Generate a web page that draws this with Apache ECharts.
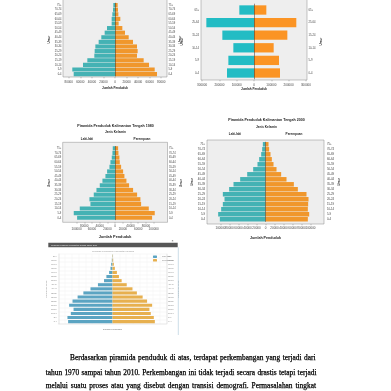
<!DOCTYPE html>
<html><head><meta charset="utf-8">
<script src="https://cdn.jsdelivr.net/npm/echarts@6/dist/echarts.min.js"></script>
<style>html,body{margin:0;padding:0;background:#fff}#c{width:391px;height:391px}</style>
</head><body><div id="c"></div>
<script>
// ---------------- DATA ----------------
const ages16 = ['0-4','5-9','10-14','15-19','20-24','25-29','30-34','35-39','40-44','45-49','50-54','55-59','60-64','65-69','70-74','75+'];
const ages17 = ['0-4','5-9','10-14','15-19','20-24','25-29','30-34','35-39','40-44','45-49','50-54','55-59','60-64','65-69','70-74','75-79','80+'];
const ages6  = ['0-4','5-9','10-14','15-24','25-64','65+'];

// top-left pyramid (1970)
const male1970   = [71500,73900,55400,47900,35800,35200,34000,28300,23700,17900,13800,5800,5800,4600,3500,2900];
const female1970 = [72700,68700,58900,49600,38100,39200,38100,31200,23700,17300,12700,6300,9200,5800,5200,4600];
const ticks1970  = [-80000,-60000,-40000,-20000,0,20000,40000,60000,80000];

// top-right pyramid (broad groups)
const maleBroad   = [156100,148200,119400,183000,275500,84800];
const femaleBroad = [150300,144500,113700,192700,244600,71300];
const ticksBroad  = [-300000,-200000,-100000,0,100000,200000,300000];

// 1980
const male1980   = [98600,107300,91700,64000,66600,55400,48400,39800,32900,25100,20800,14700,12100,8700,6900,6100];
const female1980 = [96000,102900,87400,67500,65700,57100,46700,36300,29400,24200,20800,15600,12100,11200,8700,7800];
const ticks1980  = [-120000,-100000,-80000,-60000,-40000,-20000,0,20000,40000,60000,80000,100000,120000];

// 2000
const male2000   = [101500,105200,98500,94800,91100,94800,80800,71100,56300,40700,27400,17800,14100,9600,7400,5900];
const female2000 = [94100,97100,94100,94800,95600,91100,71900,63000,46700,34800,24500,17800,14100,11100,8100,6700];
const ticks2000  = [-120000,-100000,-80000,-60000,-40000,-20000,0,20000,40000,60000,80000,100000,120000];

// 2010
const male2010   = [131000,133000,123000,115000,128000,118000,103000,86000,65000,43000,25000,18000,10000,6000,4000,2000,1000];
const female2010 = [125000,122000,113000,109000,117000,102000,89000,72000,59000,42000,27000,19000,13000,7000,4000,2000,1000];

const paragraphLines = [
  'Berdasarkan piramida penduduk di atas, terdapat perkembangan yang terjadi dari',
  'tahun 1970 sampai tahun 2010. Perkembangan ini tidak terjadi secara drastis tetapi terjadi',
  'melalui suatu proses atau yang disebut dengan transisi demografi. Permasalahan tingkat'
];

// ---------------- LAYOUT / STYLE ----------------
const SANS = '"Liberation Sans", Arial, sans-serif';
const panels = [
  { cats: ages16, male: male1970, female: female1970, ticks: ticks1970, min: -90000, max: 90000,
    frame: {x: 63, y: -6, w: 104, h: 83}, grid: {left: 63, top: 2.8, width: 104, height: 73.6},
    colors: ['#44b2b4', '#f0972c'], gap: '10%', lblSize: 3, lblMargin: 3.2, nameSize: 3, nameGap: 9.5,
    yLM: 1.5, yRM: 1.5, yNameL: 10, yNameR: 12, yLabelSize: 2.6 },
  { cats: ages6, male: maleBroad, female: femaleBroad, ticks: ticksBroad, min: -306400, max: 306400,
    frame: {x: 201, y: -6, w: 106, h: 86}, grid: {left: 201, top: 3.7, width: 106, height: 75.6},
    colors: ['#22bcc4', '#fb9424'], gap: '26%', lblSize: 3, lblMargin: 3.2, nameSize: 3, nameGap: 7.5,
    yLM: 2, yRM: 1.5, yNameL: 17, yNameR: 10.5, yLabelSize: 2.7 },
  { cats: ages16, male: male1980, female: female1980, ticks: ticks1980, min: -136000, max: 136000,
    frame: {x: 62.7, y: 142.3, w: 104.8, h: 80}, grid: {left: 62.7, top: 146, width: 104.8, height: 74.1},
    colors: ['#44b2b4', '#f0972c'], gap: '10%', lblSize: 3, lblMargin: 2.6, nameSize: 3.8, nameGap: 13,
    yLM: 1.5, yRM: 1.5, yNameL: 12.5, yNameR: 10.3, yLabelSize: 2.6, stagger: true },
  { cats: ages16, male: male2000, female: female2000, ticks: ticks2000, min: -130000, max: 130000,
    frame: {x: 207, y: 140, w: 117, h: 84}, grid: {left: 207, top: 141.8, width: 117, height: 80},
    colors: ['#44b2b4', '#f0972c'], gap: '10%', lblSize: 3, lblMargin: 2.8, nameSize: 3.6, nameGap: 11.7,
    yLM: 2, yRM: 3, yNameL: 11, yNameR: 12.7, yLabelSize: 2.8 }
];

const opt = { animation: false, grid: [], xAxis: [], yAxis: [], series: [], graphic: [], legend: [] };

panels.forEach((p, i) => {
  const f = p.frame;
  opt.graphic.push({ type: 'rect', z: -10, silent: true,
    shape: { x: f.x, y: f.y, width: f.w, height: f.h },
    style: { fill: '#eeeeee', stroke: '#8a8a8a', lineWidth: 0.5 } });
  opt.grid.push(Object.assign({ show: false }, p.grid));
  const gridBottom = p.grid.top + p.grid.height;
  opt.xAxis.push({
    gridIndex: i, type: 'value', min: p.min, max: p.max,
    offset: (f.y + f.h) - gridBottom,
    axisLine: { show: false },
    axisTick: { show: true, customValues: p.ticks, length: 1.3, lineStyle: { color: '#666', width: 0.4 } },
    axisLabel: { customValues: p.ticks, fontSize: p.lblSize, fontFamily: SANS, color: '#444', margin: p.lblMargin,
      formatter: (v) => (p.stagger && (p.ticks.indexOf(v) % 2 === 1) ? '\n' : '') + Math.abs(v) },
    splitLine: { show: false },
    name: 'Jumlah Penduduk', nameLocation: 'middle', nameGap: p.nameGap,
    nameTextStyle: { fontSize: p.nameSize, fontWeight: 'bold', fontFamily: SANS, color: '#222' }
  });
  ['left', 'right'].forEach(pos => {
    opt.yAxis.push({
      gridIndex: i, type: 'category', data: p.cats, position: pos,
      axisLine: { show: false }, axisTick: { show: false },
      axisLabel: { interval: 0, fontSize: p.yLabelSize, fontFamily: SANS, color: '#444', margin: pos === 'left' ? p.yLM : p.yRM },
      name: 'Umur', nameLocation: 'middle', nameRotate: 90, nameGap: pos === 'left' ? p.yNameL : p.yNameR,
      nameTextStyle: { fontSize: 3, fontWeight: 'bold', fontFamily: SANS, color: '#222' }
    });
  });
  opt.series.push({
    type: 'bar', name: 'L' + i, xAxisIndex: i, yAxisIndex: 2 * i, stack: 's' + i, barCategoryGap: p.gap,
    data: p.male.map(v => -v), itemStyle: { color: p.colors[0] }, silent: true,
    markLine: { silent: true, symbol: 'none', label: { show: false }, animation: false,
      lineStyle: { color: '#333', width: 0.5, type: 'solid' }, data: [{ xAxis: 0 }] }
  });
  opt.series.push({
    type: 'bar', name: 'P' + i, xAxisIndex: i, yAxisIndex: 2 * i, stack: 's' + i, barCategoryGap: p.gap,
    data: p.female, itemStyle: { color: p.colors[1] }, silent: true
  });
});

// ---- bottom pyramid (2010 web screenshot style) ----
(function () {
  const i = panels.length;
  opt.grid.push({ left: 58.3, top: 254, width: 108.4, height: 69.7, show: false });
  opt.xAxis.push({ gridIndex: i, type: 'value', min: -160000, max: 160000, interval: 20000,
    axisLine: { show: true, onZero: false, lineStyle: { color: '#d0d0d0', width: 0.4 } },
    axisTick: { show: false }, axisLabel: { show: false },
    splitLine: { show: true, lineStyle: { color: '#efefef', width: 0.4 } },
    name: 'Jumlah Penduduk', nameLocation: 'middle', nameGap: 4.3,
    nameTextStyle: { fontSize: 2.4, fontFamily: SANS, color: '#666' } });
  ['left', 'right'].forEach(pos => {
    opt.yAxis.push({ gridIndex: i, type: 'category', data: ages17, position: pos,
      axisLine: { show: true, onZero: false, lineStyle: { color: '#c8c8c8', width: 0.4 } },
      axisTick: { show: false },
      axisLabel: { interval: 0, fontSize: 2.2, fontFamily: SANS, color: '#777', margin: 1.5 },
      splitLine: { show: pos === 'left', lineStyle: { color: '#ececec', width: 0.4 } },
      name: 'Kelompok Umur', nameLocation: 'middle', nameRotate: 90, nameGap: pos === 'left' ? 9.5 : 7.5,
      nameTextStyle: { fontSize: 2.4, fontFamily: SANS, color: '#777' } });
  });
  opt.series.push({ type: 'bar', name: 'Laki-laki', xAxisIndex: i, yAxisIndex: 2 * i, stack: 's5', barCategoryGap: '24%',
    data: male2010.map(v => -v), itemStyle: { color: '#5ba4c2' }, silent: true });
  opt.series.push({ type: 'bar', name: 'Perempuan', xAxisIndex: i, yAxisIndex: 2 * i, stack: 's5', barCategoryGap: '24%',
    data: female2010, itemStyle: { color: '#e7b04f' }, silent: true });
  opt.legend.push({ data: ['Laki-laki', 'Perempuan'], orient: 'vertical', left: 153, top: 255.5,
    itemWidth: 4, itemHeight: 2.4, itemGap: 1.2, padding: 0,
    textStyle: { fontSize: 2.3, color: '#777', fontFamily: SANS }, selectedMode: false });
})();

// ---- text decorations ----
function txt(text, x, y, size, opts) {
  opt.graphic.push(Object.assign({ type: 'text', silent: true, z: 5,
    style: Object.assign({ text: text, x: x, y: y, fontSize: size, fontFamily: SANS, fill: '#222',
      textAlign: 'center', textVerticalAlign: 'middle' }, opts || {}) }));
}
// 1980 headings
txt('Piramida Penduduk Kalimantan Tengah 1980', 115.5, 125.8, 3.6, { fontWeight: 'bold' });
txt('Jenis Kelamin', 115.5, 132.6, 3.1, { fontWeight: 'bold' });
txt('Laki-laki', 87, 139, 3.1, { fontWeight: 'bold' });
txt('Perempuan', 142, 139, 3.1, { fontWeight: 'bold' });
// 2000 headings
txt('Piramida Penduduk Kalimantan Tengah 2000', 266.5, 120.2, 3.6, { fontWeight: 'bold' });
txt('Jenis Kelamin', 266.5, 126.8, 3.1, { fontWeight: 'bold' });
txt('Laki-laki', 235, 134.5, 3.1, { fontWeight: 'bold' });
txt('Perempuan', 294, 134.5, 3.1, { fontWeight: 'bold' });
// 2010 window chrome
opt.graphic.push({ type: 'rect', silent: true, z: 1, shape: { x: 48.3, y: 242.7, width: 129.4, height: 4.6 },
  style: { fill: '#575757' } });
txt('Piramida Penduduk Kalimantan Tengah Tahun 2010', 51, 245, 2, { fill: '#e8e8e8', textAlign: 'left' });
txt('×', 172.5, 241.3, 3.5, { fill: '#444' });
opt.graphic.push({ type: 'line', silent: true, z: 1, shape: { x1: 178.3, y1: 247.3, x2: 178.3, y2: 335 },
  style: { stroke: '#a9c6d6', lineWidth: 0.6 } });
txt('Piramida Penduduk Kalimantan Tengah', 113, 251.6, 2.4, { fill: '#999' });

// ---- paragraph (justified) ----
const paraLayout = [
  { x0: 70, x1: 315.5, y: 358 },
  { x0: 45.7, x1: 316.5, y: 372.6 },
  { x0: 45.7, x1: 316, y: 386.2 }
];
const PFONT = 7.4, PFAM = '"Liberation Serif", "Times New Roman", serif';
const mctx = document.createElement('canvas').getContext('2d');
mctx.font = PFONT + 'px ' + PFAM;
paragraphLines.forEach((line, li) => {
  const L = paraLayout[li];
  const words = line.split(' ');
  const widths = words.map(w => mctx.measureText(w).width);
  const total = widths.reduce((a, b) => a + b, 0);
  const gap = (L.x1 - L.x0 - total) / (words.length - 1);
  let x = L.x0;
  words.forEach((w, k) => {
    opt.graphic.push({ type: 'text', silent: true, z: 5,
      style: { text: w, x: x, y: L.y, fontSize: PFONT, fontFamily: PFAM, fill: '#000',
        stroke: '#000', lineWidth: 0.25, textAlign: 'left', textVerticalAlign: 'middle' } });
    x += widths[k] + gap;
  });
});

const chart = echarts.init(document.getElementById('c'), null, { renderer: 'canvas' });
chart.setOption(opt);
</script>
</body></html>
